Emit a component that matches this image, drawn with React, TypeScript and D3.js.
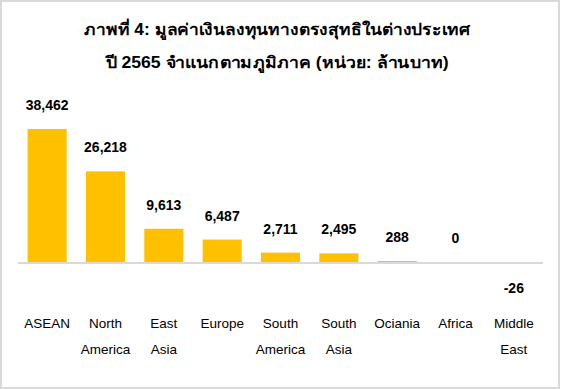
import { useEffect, useRef } from "react";
import * as d3 from "d3";

const titleLines = [
  "ภาพที่ 4: มูลค่าเงินลงทุนทางตรงสุทธิในต่างประเทศ",
  "ปี 2565 จำแนกตามภูมิภาค (หน่วย: ล้านบาท)",
];

const regions = [
  "ASEAN",
  "North America",
  "East Asia",
  "Europe",
  "South America",
  "South Asia",
  "Ociania",
  "Africa",
  "Middle East",
];

const regionLabels = [
  ["ASEAN"],
  ["North", "America"],
  ["East", "Asia"],
  ["Europe"],
  ["South", "America"],
  ["South", "Asia"],
  ["Ociania"],
  ["Africa"],
  ["Middle", "East"],
];

const investment = [38462, 26218, 9613, 6487, 2711, 2495, 288, 0, -26];

function App() {
  const ref = useRef<SVGSVGElement | null>(null);

  useEffect(() => {
    drawChart();
  }, []);

  function drawChart() {
    const font = "'Liberation Sans', Arial, 'DejaVu Sans', sans-serif";

    const svg = d3.select(ref.current);
    svg.selectAll("*").remove();

    // outer frame
    svg
      .append("rect")
      .attr("x", 1)
      .attr("y", 1)
      .attr("width", 558)
      .attr("height", 387)
      .attr("fill", "#fff")
      .attr("stroke", "#d9d9d9")
      .attr("stroke-width", 2);

    // title (stretched a bit, the thai fallback font is narrower than the original)
    const titleWidths = [386, 343];
    svg
      .append("g")
      .selectAll("text")
      .data(titleLines)
      .join("text")
      .attr("x", 277)
      .attr("y", (d, i) => 35 + i * 33)
      .attr("text-anchor", "middle")
      .attr("font-family", font)
      .attr("font-weight", "bold")
      .attr("font-size", 16)
      .attr("textLength", (d, i) => titleWidths[i])
      .attr("lengthAdjust", "spacingAndGlyphs")
      .attr("fill", "#000")
      .text((d) => d);

    const x = d3
      .scaleBand()
      .domain(regions)
      .range([18, 543])
      .paddingInner(0.33)
      .paddingOuter(0.165);

    const y = d3
      .scaleLinear()
      .domain([0, d3.max(investment) as number])
      .range([262, 129]);

    const data = regions.map((r, i) => ({ region: r, value: investment[i], lines: regionLabels[i] }));

    // bars
    svg
      .append("g")
      .attr("fill", "#FFC000")
      .selectAll("rect")
      .data(data)
      .join("rect")
      .attr("x", (d) => x(d.region) as number)
      .attr("y", (d) => Math.min(y(d.value), y(0)))
      .attr("width", x.bandwidth())
      .attr("height", (d) => Math.abs(y(d.value) - y(0)));

    // zero line
    svg
      .append("line")
      .attr("x1", 18)
      .attr("x2", 543)
      .attr("y1", y(0) + 1)
      .attr("y2", y(0) + 1)
      .attr("stroke", "#d9d9d9")
      .attr("stroke-width", 2);

    // value labels
    svg
      .append("g")
      .selectAll("text")
      .data(data)
      .join("text")
      .attr("x", (d) => (x(d.region) as number) + x.bandwidth() / 2)
      .attr("y", (d) => (d.value >= 0 ? y(d.value) - 19 : y(0) + 31))
      .attr("text-anchor", "middle")
      .attr("font-family", font)
      .attr("font-weight", "bold")
      .attr("font-size", 14)
      .attr("fill", "#000")
      .text((d) => d3.format(",")(d.value).replace("−", "-"));

    // category labels
    const cats = svg
      .append("g")
      .selectAll("text")
      .data(data)
      .join("text")
      .attr("text-anchor", "middle")
      .attr("font-family", font)
      .attr("font-size", 13.5)
      .attr("fill", "#000");

    cats
      .selectAll("tspan")
      .data((d) => d.lines.map((l) => ({ l, cx: (x(d.region) as number) + x.bandwidth() / 2 })))
      .join("tspan")
      .attr("x", (d) => d.cx)
      .attr("y", (d, i) => 328 + i * 26)
      .text((d) => d.l);
  }

  return (
    <div style={{ position: "absolute", left: 0, top: 0 }}>
      <svg ref={ref} width={563} height={389} style={{ display: "block" }} />
    </div>
  );
}

export default App;
